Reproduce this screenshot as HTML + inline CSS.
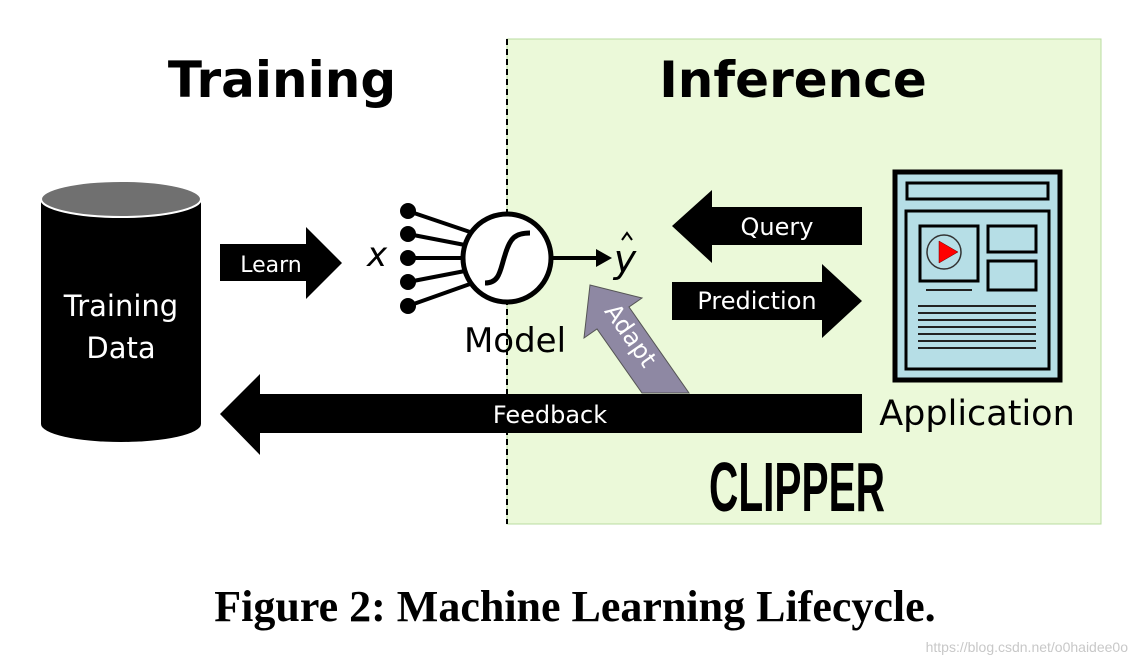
<!DOCTYPE html>
<html><head><meta charset="utf-8"><style>
html,body{margin:0;padding:0;background:#fff;}
svg{display:block;}
</style></head><body>
<svg width="1141" height="666" viewBox="0 0 1141 666" xmlns="http://www.w3.org/2000/svg">
<rect x="507" y="39" width="594" height="485" fill="#ebf9d9" stroke="#b9dca0" stroke-width="1"/>
<line x1="507" y1="39" x2="507" y2="524" stroke="#000" stroke-width="2" stroke-dasharray="6,4"/>
<text x="282" y="97" text-anchor="middle" font-family="DejaVu Sans, Liberation Sans, sans-serif" font-weight="bold" font-size="50">Training</text>
<text x="793" y="97" text-anchor="middle" font-family="DejaVu Sans, Liberation Sans, sans-serif" font-weight="bold" font-size="50">Inference</text>
<!-- cylinder -->
<path d="M41 200 L41 424 A80 18 0 0 0 201 424 L201 200 Z" fill="#000"/>
<ellipse cx="121" cy="199" rx="80" ry="18" fill="#707070" stroke="#fff" stroke-width="2"/>
<text x="121" y="316" text-anchor="middle" fill="#fff" font-family="DejaVu Sans, Liberation Sans, sans-serif" font-size="29">Training</text>
<text x="121" y="358" text-anchor="middle" fill="#fff" font-family="DejaVu Sans, Liberation Sans, sans-serif" font-size="29">Data</text>
<!-- learn arrow -->
<polygon points="220,244 306,244 306,227 342,263 306,299 306,281 220,281" fill="#000"/>
<text x="271" y="272" text-anchor="middle" fill="#fff" font-family="DejaVu Sans, Liberation Sans, sans-serif" font-size="22">Learn</text>
<!-- neuron -->
<text x="377" y="266" text-anchor="middle" font-family="DejaVu Sans, Liberation Sans, sans-serif" font-style="italic" font-size="34">x</text>
<g stroke="#000" stroke-width="4">
<line x1="408" y1="211" x2="470" y2="232"/>
<line x1="408" y1="234" x2="465" y2="245"/>
<line x1="408" y1="258" x2="463" y2="258"/>
<line x1="408" y1="282" x2="465" y2="271"/>
<line x1="408" y1="306" x2="470" y2="284"/>
</g>
<g fill="#000">
<circle cx="408" cy="211" r="8"/><circle cx="408" cy="234" r="8"/><circle cx="408" cy="258" r="8"/><circle cx="408" cy="282" r="8"/><circle cx="408" cy="306" r="8"/>
</g>
<circle cx="507" cy="258" r="44" fill="#fff" stroke="#000" stroke-width="5"/>
<path d="M485 283 C500 283 500 270 505 255 C510 238 515 233 530 233" fill="none" stroke="#000" stroke-width="5"/>
<line x1="553" y1="258" x2="600" y2="258" stroke="#000" stroke-width="4"/>
<polygon points="596,249 612,258 596,267" fill="#000"/>
<text x="625" y="272" text-anchor="middle" font-family="DejaVu Sans, Liberation Sans, sans-serif" font-style="italic" font-size="38">y</text>
<path d="M622 240 L627 233 L632 240" fill="none" stroke="#000" stroke-width="2"/>
<text x="515" y="352" text-anchor="middle" font-family="DejaVu Sans, Liberation Sans, sans-serif" font-size="34">Model</text>
<!-- query arrow -->
<polygon points="862,207 712,207 712,190 672,226 712,263 712,245 862,245" fill="#000"/>
<text x="777" y="235" text-anchor="middle" fill="#fff" font-family="DejaVu Sans, Liberation Sans, sans-serif" font-size="24">Query</text>
<!-- prediction -->
<polygon points="672,282 822,282 822,264 862,301 822,338 822,320 672,320" fill="#000"/>
<text x="757" y="309" text-anchor="middle" fill="#fff" font-family="DejaVu Sans, Liberation Sans, sans-serif" font-size="24">Prediction</text>
<!-- adapt arrow -->
<polygon points="642,393 689,393 629,307 642,298 590,285 584,338 597,329" fill="#8e88a3" stroke="#555" stroke-width="1"/>
<text transform="translate(624,340) rotate(55)" text-anchor="middle" fill="#fff" font-family="DejaVu Sans, Liberation Sans, sans-serif" font-size="24">Adapt</text>
<!-- feedback -->
<polygon points="862,394 260,394 260,374 220,414 260,455 260,433 862,433" fill="#000"/>
<text x="550" y="423" text-anchor="middle" fill="#fff" font-family="DejaVu Sans, Liberation Sans, sans-serif" font-size="24">Feedback</text>
<!-- application icon -->
<rect x="895" y="172" width="165" height="208" fill="#b6dee6" stroke="#000" stroke-width="5"/>
<rect x="907" y="183" width="141" height="16" fill="#b6dee6" stroke="#000" stroke-width="3"/>
<rect x="906" y="211" width="143" height="158" fill="#b6dee6" stroke="#000" stroke-width="3"/>
<rect x="920" y="226" width="58" height="55" fill="#b6dee6" stroke="#000" stroke-width="3"/>
<circle cx="944" cy="252" r="17" fill="none" stroke="#333" stroke-width="1.5"/>
<polygon points="939,241 958,252 939,263" fill="#f00" stroke="#600" stroke-width="0.5"/>
<rect x="988" y="226" width="48" height="26" fill="#b6dee6" stroke="#000" stroke-width="3"/>
<rect x="988" y="261" width="48" height="29" fill="#b6dee6" stroke="#000" stroke-width="3"/>
<line x1="926" y1="290" x2="972" y2="290" stroke="#222" stroke-width="2"/>
<g stroke="#222" stroke-width="2">
<line x1="918" y1="306" x2="1036" y2="306"/><line x1="918" y1="313" x2="1036" y2="313"/><line x1="918" y1="320" x2="1036" y2="320"/><line x1="918" y1="327" x2="1036" y2="327"/><line x1="918" y1="334" x2="1036" y2="334"/><line x1="918" y1="341" x2="1036" y2="341"/><line x1="918" y1="348" x2="1036" y2="348"/>
</g>
<text x="977" y="425" text-anchor="middle" font-family="DejaVu Sans, Liberation Sans, sans-serif" font-size="35">Application</text>
<text x="0" y="0" transform="translate(797,511) scale(0.58,1)" text-anchor="middle" font-family="Liberation Sans Narrow, Liberation Sans, sans-serif" font-weight="bold" font-size="70">CLIPPER</text>
<text x="575" y="621" text-anchor="middle" font-family="Liberation Serif, serif" font-weight="bold" font-size="44">Figure 2: Machine Learning Lifecycle.</text>
<text x="1128" y="652" text-anchor="end" fill="#c8c8c8" font-family="Liberation Sans, sans-serif" font-size="14">https://blog.csdn.net/o0haidee0o</text>
</svg>
</body></html>
